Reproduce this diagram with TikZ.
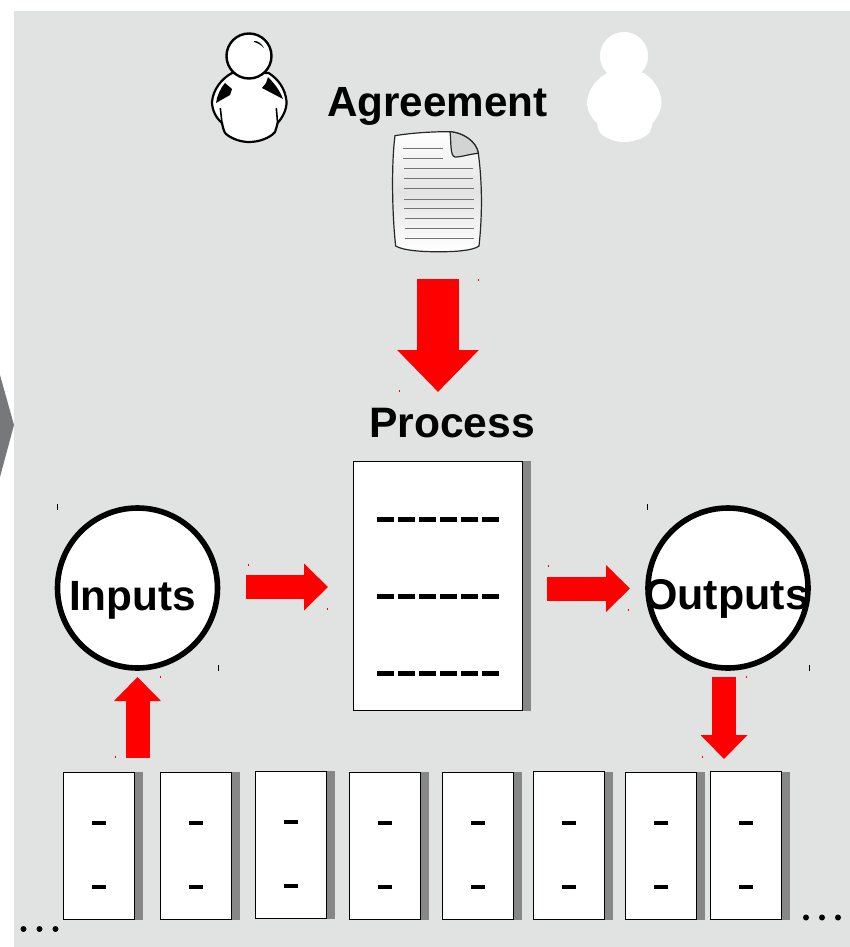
\documentclass[tikz,border=0pt]{standalone}
\usepackage{fontspec}
\setmainfont{Liberation Sans}
\usetikzlibrary{arrows.meta}
\definecolor{panel}{HTML}{E1E3E2}
\definecolor{shadowgray}{HTML}{878787}
\definecolor{chev}{HTML}{77787A}
\definecolor{foldc}{HTML}{D2D3D3}
\tikzset{
  x=1pt,y=-1pt,
  title/.style={font=\bfseries\fontsize{42.2}{42}\selectfont,text=black,inner sep=0pt},
  circ/.style={circle,draw=black,line width=5.6pt,fill=white,minimum size=160pt,inner sep=0pt},
  bigbox/.style={draw=black,line width=0.9pt,fill=white,minimum width=169.5pt,minimum height=249.5pt,inner sep=0pt},
  smallbox/.style={draw=black,line width=0.9pt,fill=white,minimum width=71.5pt,minimum height=147.5pt,inner sep=0pt},
  dashline/.style={line width=5pt,black},
  smalldash/.style={line width=4.4pt,black},
  blockbig/.style={draw=red,line width=42pt,-{Triangle[length=42pt,width=79pt]}},
  blockmid/.style={draw=red,line width=24pt,-{Triangle[length=24pt,width=45.5pt]}},
  docline/.style={line width=0.7pt,draw=black!55},
  speck/.style={line width=1pt},
  dotm/.style={circle,fill=black,minimum size=6pt,inner sep=0pt},
}
% name, centre x, centre y, y of the upper dash
\newcommand{\smallb}[4]{%
  \fill[shadowgray] (#2+36,#3-74) rectangle (#2+44,#3+74);
  \node[smallbox] (#1) at (#2,#3) {};
  \draw[smalldash] (#2-7,#4) -- (#2+7,#4);
  \draw[smalldash] (#2-7,#4+64) -- (#2+7,#4+64);
}
\newcommand{\personshape}{%
  (-17,17) .. controls (-28,23) and (-36,34) .. (-37,46)
  .. controls (-37,54) and (-33,62) .. (-27,67)
  .. controls (-26,72) and (-25,76) .. (-23,78)
  .. controls (-17,83) and (-8,86) .. (0,86)
  .. controls (10,86) and (21,82) .. (26,76)
  .. controls (27,73) and (28,70) .. (28.6,67)
  .. controls (33,62) and (38,54) .. (37.5,45)
  .. controls (36,32) and (29,23) .. (19.6,17) -- cycle
}
\begin{document}
\begin{tikzpicture}
\useasboundingbox (0,0) rectangle (850,947);
\fill[white] (0,0) rectangle (850,947);
\fill[panel] (14,11) rectangle (850,947);
\fill[chev] (0,375) -- (14,425) -- (0,477) -- cycle;

% left person
\begin{scope}[shift={(249,56)}]
  \filldraw[fill=white,draw=black,line width=2.2pt] \personshape;
  \fill[black] (-24,27) .. controls (-29,33) and (-32,40) .. (-33,47) -- (-19,39) -- (-17,33) -- cycle;
  \fill[black] (19,21) .. controls (26,28) and (31,35) .. (34,43) -- (13,32) -- (17,27) -- cycle;
  \draw[line width=1.6pt] (-28.7,52) -- (-27,67);
  \draw[line width=1.6pt] (27.3,52) -- (28.6,67);
  \node[circle,draw=black,fill=white,line width=2.4pt,minimum size=45pt,inner sep=0pt] (headl) at (0,0) {};
  \fill[black] (5,-15) .. controls (9,-15.5) and (13,-12) .. (15,-8) .. controls (12,-11) and (9,-13) .. (5,-14) -- cycle;
\end{scope}
% right person, white
\begin{scope}[shift={(624,56)}]
  \fill[white] \personshape;
  \node[circle,fill=white,minimum size=48pt,inner sep=0pt] (headr) at (0,0) {};
\end{scope}

\node[title,anchor=base] (agreement) at (437.5,117) {Agreement};
\node[title,anchor=base,font=\bfseries\fontsize{42.6}{42}\selectfont] (process) at (452,437) {Process};

% document
\begin{scope}[shift={(380,120)},x=0.3333pt,y=-0.3333pt]
  \draw[line width=1.2pt,draw=black!85,left color=white,right color=white,middle color=black!11,shading angle=0]
    (45,47) .. controls (100,38) and (160,35) .. (210,35)
    .. controls (250,38) and (290,65) .. (295,100)
    .. controls (306,180) and (308,280) .. (297,378)
    .. controls (280,392) and (220,396) .. (180,395)
    .. controls (130,396) and (70,392) .. (47,378)
    .. controls (36,280) and (34,130) .. (45,47) -- cycle;
  \filldraw[fill=foldc,draw=black!85,line width=1.2pt] (210,35) .. controls (250,38) and (290,65) .. (295,100)
    .. controls (270,102) and (240,112) .. (225,111) .. controls (210,108) and (214,70) .. (210,35) -- cycle;
  \foreach \yy/\xa/\xb in {85/70/188,116/70/188,145/73/280,176/73/280,206/73/281,237/73/281,265/73/281,294/74/281,324/74/281,354/74/281}
    \draw[docline] (\xa,\yy) -- (\xb,\yy);
\end{scope}

% circles
\node[circ] (inputs) at (137.5,588) {};
\node[font=\bfseries\fontsize{42.3}{42}\selectfont,anchor=base] (inlabel) at (132.5,610) {Inputs};
\node[circ] (outputs) at (728,588) {};
\node[font=\bfseries\fontsize{43}{42}\selectfont,anchor=base] (outlabel) at (726.5,609) {Outputs};

% process box
\fill[shadowgray] (523,461) rectangle (531,711);
\node[bigbox] (procbox) at (438,586) {};
\foreach \yy in {519.5,596.5,673.5}
  \foreach \k in {0,...,5}
    \draw[dashline] (377+\k*21,\yy) -- (394+\k*21,\yy);

% small boxes
\smallb{b1}{99}{846}{823}
\smallb{b2}{196}{846}{823}
\smallb{b3}{291}{845}{822}
\smallb{b4}{385}{846}{823}
\smallb{b5}{478}{846}{823}
\smallb{b6}{569}{845.5}{823}
\smallb{b7}{661}{846}{823}
\smallb{b8}{746}{845.5}{823}

% block arrows
\coordinate (a1s) at (438,279); \coordinate (a1e) at (438,392);
\coordinate (a2s) at (246,587); \coordinate (a2e) at (328,587);
\coordinate (a3s) at (547,588.5); \coordinate (a3e) at (630,588.5);
\coordinate (a4s) at (137.5,758); \coordinate (a4e) at (137.5,677);
\coordinate (a5s) at (724,677); \coordinate (a5e) at (724,759);
\draw[blockbig] (a1s) -- (a1e);
\draw[blockmid] (a2s) -- (a2e);
\draw[blockmid] (a3s) -- (a3e);
\draw[blockmid] (a4s) -- (a4e);
\draw[blockmid] (a5s) -- (a5e);

% dots
\foreach \xx in {23.5,39.5,55.5} \node[dotm] at (\xx,929) {};
\foreach \xx in {806,822,838} \node[dotm] at (\xx,917.5) {};

% specks
\foreach \xx/\yy in {57/507,218/668,647/507,809/668}
  \draw[speck,black] (\xx,\yy-3) -- (\xx,\yy+3);
\foreach \xx/\yy in {478/280,399/391,248/565,327/609,548/566,628/610,160/677,115/757,746/677,702/757}
  \draw[speck,red] (\xx,\yy-1) -- (\xx,\yy+1);
\end{tikzpicture}
\end{document}
